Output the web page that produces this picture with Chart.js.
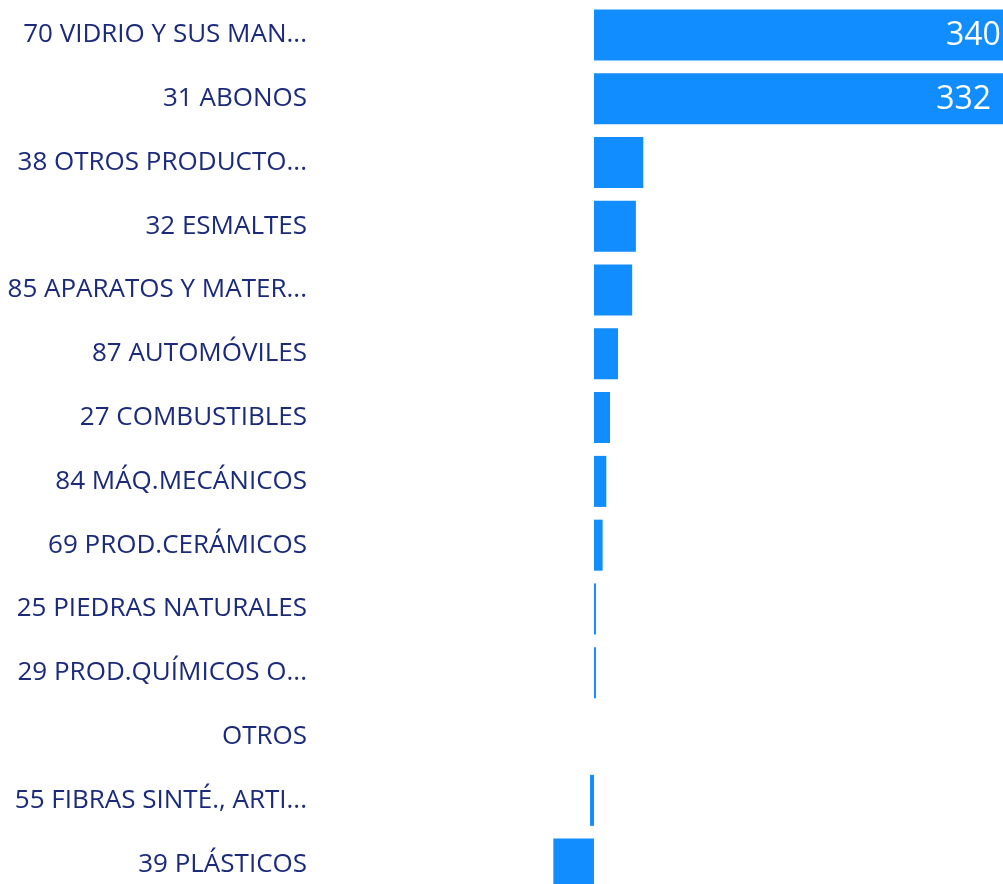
<!DOCTYPE html>
<html>
<head>
<meta charset="utf-8">
<script src="https://cdn.jsdelivr.net/npm/chart.js@4.4.1/dist/chart.umd.min.js"></script>
<style>
  html, body { margin: 0; padding: 0; background: #fff; overflow: hidden; }
  #wrap { position: relative; width: 1040px; height: 896px; }
</style>
</head>
<body>
<div id="wrap"><canvas id="chart"></canvas></div>
<script>
const categories = ['70 VIDRIO Y SUS MAN...', '31 ABONOS', '38 OTROS PRODUCTO...', '32 ESMALTES', '85 APARATOS Y MATER...', '87 AUTOMÓVILES', '27 COMBUSTIBLES', '84 MÁQ.MECÁNICOS', '69 PROD.CERÁMICOS', '25 PIEDRAS NATURALES', '29 PROD.QUÍMICOS O...', 'OTROS', '55 FIBRAS SINTÉ., ARTI...', '39 PLÁSTICOS'];
const values = [340, 332, 40, 34, 31, 19.5, 13, 10, 7, 1.6, 1.6, 0, -3.2, -33];

const labelFont = '"Open Sans", "Noto Sans", sans-serif';

// values labels drawn inside the bar end, only where they fit
const insideLabels = {
  id: 'insideLabels',
  afterDatasetsDraw(chart) {
    const ctx = chart.ctx;
    const meta = chart.getDatasetMeta(0);
    ctx.save();
    ctx.font = '32px ' + labelFont;
    ctx.fillStyle = '#ffffff';
    ctx.textAlign = 'right';
    ctx.textBaseline = 'middle';
    meta.data.forEach((bar, i) => {
      const txt = String(values[i]);
      const w = Math.abs(bar.x - bar.base);
      if (w > ctx.measureText(txt).width + 30) {
        ctx.fillText(txt, bar.x - 12, bar.y + 1);
      }
    });
    ctx.restore();
  }
};

new Chart(document.getElementById('chart').getContext('2d'), {
  type: 'bar',
  data: {
    labels: categories,
    datasets: [{
      data: values,
      backgroundColor: '#118DFF',
      barPercentage: 0.8,
      categoryPercentage: 1.0
    }]
  },
  options: {
    indexAxis: 'y',
    responsive: true,
    maintainAspectRatio: false,
    animation: false,
    layout: { padding: { top: 3, bottom: 0, left: 0, right: 0 } },
    plugins: { legend: { display: false }, tooltip: { enabled: false } },
    scales: {
      x: {
        display: false,
        min: -230.5,
        max: 362
      },
      y: {
        grid: { display: false, drawTicks: false },
        border: { display: false },
        ticks: {
          padding: 3,
          color: '#1B2A7B',
          font: { family: labelFont, size: 26 }
        },
        afterFit(scale) {
          scale.width = 310;
          scale.paddingTop = 0;
          scale.paddingBottom = 0;
        }
      }
    }
  },
  plugins: [insideLabels]
});
</script>
</body>
</html>
